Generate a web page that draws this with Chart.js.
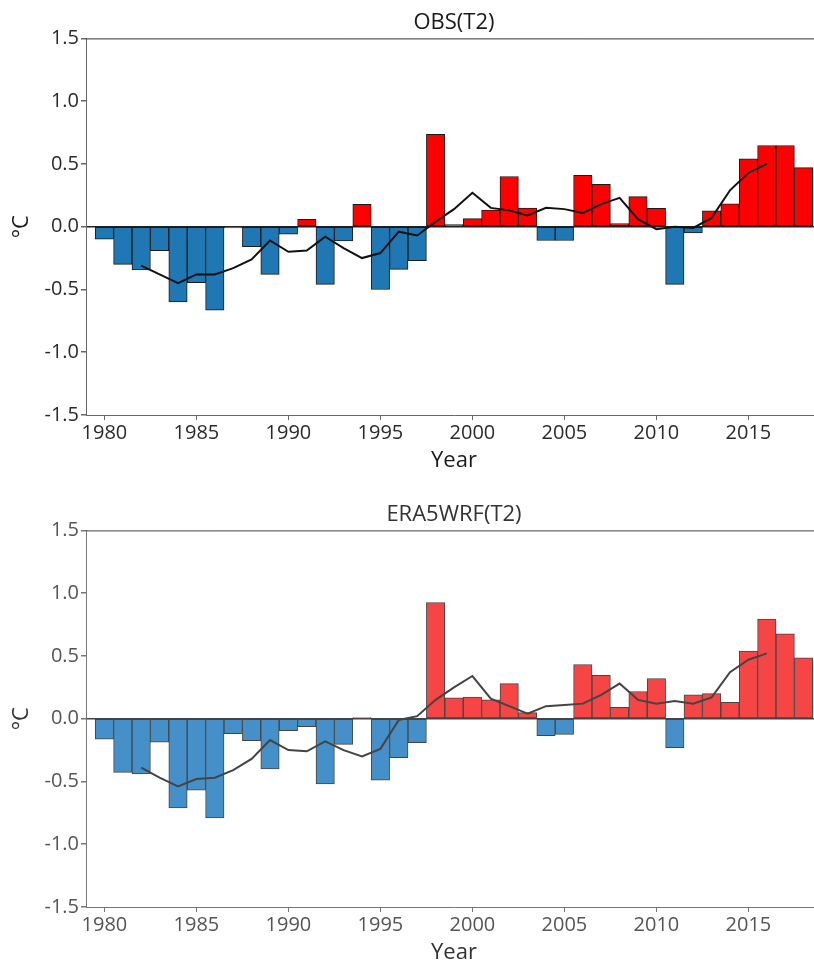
<!DOCTYPE html>
<html>
<head>
<meta charset="utf-8">
<script src="https://cdn.jsdelivr.net/npm/chart.js@4.4.1/dist/chart.umd.min.js"></script>
<style>
    html, body { margin: 0; padding: 0; background: #fff; overflow: hidden; }
    #wrap { position: relative; width: 814px; height: 963px; overflow: hidden; }
    canvas { position: absolute; left: 0; }
    #obs-chart { top: 0; }
    #era-chart { top: 492px; }
</style>
</head>
<body>
<div id="wrap">
    <canvas id="obs-chart" width="822" height="480"></canvas>
    <canvas id="era-chart" width="822" height="480"></canvas>
</div>
<script>
const years = [1980, 1981, 1982, 1983, 1984, 1985, 1986, 1987, 1988, 1989,
               1990, 1991, 1992, 1993, 1994, 1995, 1996, 1997, 1998, 1999,
               2000, 2001, 2002, 2003, 2004, 2005, 2006, 2007, 2008, 2009,
               2010, 2011, 2012, 2013, 2014, 2015, 2016, 2017, 2018];

// yearly anomalies, degC
const obsAnom = [-0.10, -0.30, -0.345, -0.19, -0.60, -0.445, -0.665, -0.01, -0.16, -0.38,
                 -0.06, 0.058, -0.46, -0.114, 0.178, -0.50, -0.34, -0.27, 0.735, 0.016,
                 0.064, 0.133, 0.40, 0.149, -0.11, -0.11, 0.41, 0.337, 0.024, 0.24,
                 0.146, -0.46, -0.05, 0.127, 0.183, 0.54, 0.647, 0.647, 0.47];

const eraAnom = [-0.164, -0.427, -0.44, -0.186, -0.71, -0.57, -0.79, -0.12, -0.175, -0.40,
                 -0.095, -0.064, -0.52, -0.204, 0.008, -0.49, -0.31, -0.19, 0.926, 0.167,
                 0.172, 0.151, 0.279, 0.048, -0.135, -0.125, 0.432, 0.345, 0.09, 0.217,
                 0.32, -0.23, 0.19, 0.20, 0.13, 0.538, 0.793, 0.676, 0.485];

// running mean line
const meanYears = [1982, 1983, 1984, 1985, 1986, 1987, 1988, 1989, 1990, 1991,
                   1992, 1993, 1994, 1995, 1996, 1997, 1998, 1999, 2000, 2001,
                   2002, 2003, 2004, 2005, 2006, 2007, 2008, 2009, 2010, 2011,
                   2012, 2013, 2014, 2015, 2016];

const obsMean = [-0.31, -0.38, -0.45, -0.38, -0.38, -0.33, -0.26, -0.11, -0.20, -0.19,
                 -0.08, -0.17, -0.25, -0.21, -0.04, -0.07, 0.04, 0.14, 0.27, 0.15,
                 0.13, 0.09, 0.15, 0.14, 0.11, 0.18, 0.23, 0.06, -0.02, 0.00,
                 -0.01, 0.07, 0.29, 0.43, 0.50];

const eraMean = [-0.39, -0.47, -0.54, -0.48, -0.47, -0.41, -0.32, -0.17, -0.25, -0.26,
                 -0.18, -0.25, -0.30, -0.24, -0.01, 0.02, 0.15, 0.25, 0.34, 0.16,
                 0.10, 0.04, 0.10, 0.11, 0.12, 0.19, 0.28, 0.15, 0.12, 0.14,
                 0.12, 0.17, 0.37, 0.47, 0.52];

const xTickYears = [1980, 1985, 1990, 1995, 2000, 2005, 2010, 2015];
const yTickValues = [-1.5, -1.0, -0.5, 0.0, 0.5, 1.0, 1.5];

const FONT = "'Open Sans', 'Noto Sans', sans-serif";

const frameLines = {
    id: 'frameLines',
    afterDraw(chart, args, opts) {
        const ctx = chart.ctx;
        const area = chart.chartArea;
        ctx.save();
        ctx.strokeStyle = opts.color;
        ctx.lineWidth = 1;
        ctx.beginPath();
        ctx.moveTo(area.left, area.top + 0.5);
        ctx.lineTo(area.right, area.top + 0.5);
        ctx.moveTo(area.right - 0.5, area.top);
        ctx.lineTo(area.right - 0.5, area.bottom);
        ctx.stroke();
        ctx.restore();
    }
};

function buildChart(canvasId, title, anom, mean, style) {
    const barData = years.map((yr, i) => ({x: yr, y: anom[i]}));
    const lineData = meanYears.map((yr, i) => ({x: yr, y: mean[i]}));

    return new Chart(document.getElementById(canvasId), {
        type: 'bar',
        data: {
            datasets: [
                {
                    type: 'line',
                    data: lineData,
                    borderColor: style.line,
                    borderWidth: 2,
                    pointRadius: 0,
                    tension: 0,
                    order: 0
                },
                {
                    type: 'bar',
                    data: barData,
                    backgroundColor: anom.map(v => v >= 0 ? style.red : style.blue),
                    borderColor: style.edge,
                    borderWidth: 1,
                    borderSkipped: false,
                    barPercentage: 1.0,
                    categoryPercentage: 1.0,
                    order: 1
                }
            ]
        },
        options: {
            responsive: false,
            animation: false,
            events: [],
            layout: {padding: 0},
            plugins: {
                legend: {display: false},
                tooltip: {enabled: false},
                title: {
                    display: true,
                    text: title,
                    fullSize: false,
                    color: style.title,
                    font: {family: FONT, size: 22, weight: 'normal'},
                    padding: {top: 10, bottom: 2}
                },
                frameLines: {color: style.frame}
            },
            scales: {
                x: {
                    type: 'linear',
                    min: 1979,
                    max: 2019,
                    offset: false,
                    afterFit(scale) { scale.height = 65; },
                    afterBuildTicks(scale) {
                        scale.ticks = xTickYears.map(v => ({value: v}));
                    },
                    ticks: {
                        color: style.text,
                        font: {family: FONT, size: 20},
                        padding: 1,
                        maxRotation: 0,
                        autoSkip: false,
                        callback: v => String(v)
                    },
                    grid: {
                        offset: false,
                        drawOnChartArea: false,
                        drawTicks: true,
                        tickLength: 5,
                        tickColor: style.axis
                    },
                    border: {color: style.axis, width: 1},
                    title: {
                        display: true,
                        text: 'Year',
                        color: style.title,
                        font: {family: FONT, size: 22},
                        padding: {top: 0, bottom: 6}
                    }
                },
                y: {
                    min: -1.5,
                    max: 1.5,
                    afterFit(scale) { scale.width = 86; },
                    afterBuildTicks(scale) {
                        scale.ticks = yTickValues.map(v => ({value: v}));
                    },
                    ticks: {
                        color: style.text,
                        font: {family: FONT, size: 20},
                        padding: 2,
                        callback: v => v.toFixed(1)
                    },
                    grid: {
                        color: c => (c.tick && c.tick.value === 0) ? style.zero : 'rgba(0,0,0,0)',
                        lineWidth: 1.5,
                        tickLength: 5,
                        tickColor: style.axis
                    },
                    border: {color: style.axis, width: 1},
                    title: {
                        display: true,
                        text: '°C',
                        color: style.title,
                        font: {family: FONT, size: 22},
                        padding: {top: 9, bottom: 0}
                    }
                }
            }
        },
        plugins: [frameLines]
    });
}

buildChart('obs-chart', 'OBS(T2)', obsAnom, obsMean, {
    red: '#ff0000',
    blue: '#1f77b4',
    edge: '#1a1a1a',
    line: '#111111',
    zero: '#222222',
    axis: '#666666',
    frame: '#333333',
    text: '#2a2a2a',
    title: '#1a1a1a'
});

buildChart('era-chart', 'ERA5WRF(T2)', eraAnom, eraMean, {
    red: '#f54545',
    blue: '#4690c9',
    edge: '#444444',
    line: '#444444',
    zero: '#444444',
    axis: '#777777',
    frame: '#444444',
    text: '#555555',
    title: '#333333'
});
</script>
</body>
</html>
